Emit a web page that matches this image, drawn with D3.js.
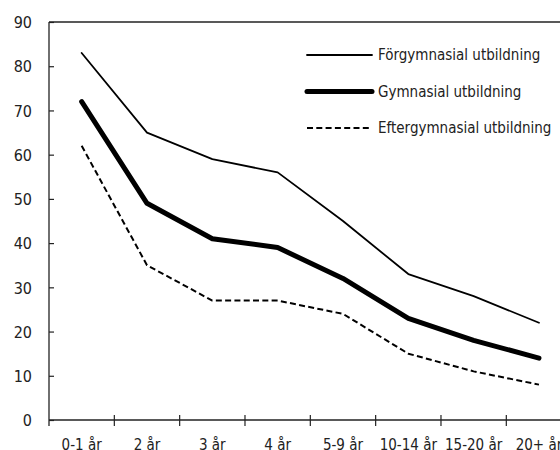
<!DOCTYPE html>
<html>
<head>
  <title>Utbildning</title>
  <style type="text/css">
    body { margin: 0; background: #fff; overflow: hidden; }
    svg { display: block; }
    svg text { font-family: "DejaVu Sans Condensed", "Liberation Sans Narrow", sans-serif; fill: #222; }
  </style>
</head>
<body>

<div id="chart"></div>

<script src="https://d3js.org/d3.v7.min.js"></script>
<script type="text/javascript">
var categories = ["0-1 år", "2 år", "3 år", "4 år", "5-9 år", "10-14 år", "15-20 år", "20+ år"];
var forgymnasial = [83, 65, 59, 56, 45, 33, 28, 22];
var gymnasial = [72, 49, 41, 39, 32, 23, 18, 14];
var eftergymnasial = [62, 35, 27, 27, 24, 15, 11, 8];
var yTicks = [0, 10, 20, 30, 40, 50, 60, 70, 80, 90];

var series = [
  { name: "Förgymnasial utbildning", values: forgymnasial, width: 1.8, dash: null },
  { name: "Gymnasial utbildning", values: gymnasial, width: 5, dash: null },
  { name: "Eftergymnasial utbildning", values: eftergymnasial, width: 2, dash: "6,3.3" }
];

var width = 560, height = 450;
var plotLeft = 49, plotTop = 22, plotBottom = 420, plotRight = 49 + 8 * 65.33;
var fontSize = "15px";

var svg = d3.select("#chart")
  .append("svg")
  .attr("width", width)
  .attr("height", height);

var x = d3.scaleBand().domain(categories).range([plotLeft, plotRight]);
var y = d3.scaleLinear().domain([0, 90]).range([plotBottom, plotTop]);

// frame top
svg.append("line")
  .attr("x1", plotLeft).attr("x2", plotRight)
  .attr("y1", plotTop).attr("y2", plotTop)
  .attr("stroke", "#222").attr("stroke-width", 1.3);

// y axis, ticks inward
var yAxis = svg.append("g")
  .attr("transform", "translate(" + plotLeft + ",0)")
  .call(d3.axisRight(y).tickValues(yTicks).tickSize(5).tickFormat(d3.format("d")));
yAxis.select(".domain").remove();
yAxis.append("line")
  .attr("x1", 0).attr("x2", 0)
  .attr("y1", plotTop).attr("y2", plotBottom + 6)
  .attr("stroke", "#222").attr("stroke-width", 1.3);
yAxis.selectAll(".tick line").attr("stroke", "#222").attr("stroke-width", 1.2);
yAxis.selectAll(".tick text")
  .attr("x", -17)
  .attr("text-anchor", "end")
  .attr("dy", "0.36em")
  .style("font-size", "16px");

// x axis, ticks crossing at band edges
var xg = svg.append("g");
xg.append("line")
  .attr("x1", plotLeft).attr("x2", plotRight)
  .attr("y1", plotBottom).attr("y2", plotBottom)
  .attr("stroke", "#222").attr("stroke-width", 1.3);
xg.selectAll(".xt")
  .data(categories.slice(1))
  .enter().append("line")
  .attr("x1", d => x(d)).attr("x2", d => x(d))
  .attr("y1", plotBottom - 5).attr("y2", plotBottom + 6)
  .attr("stroke", "#222").attr("stroke-width", 1.2);
xg.selectAll(".xl")
  .data(categories)
  .enter().append("text")
  .attr("x", d => x(d) + x.bandwidth() / 2)
  .attr("y", 450)
  .attr("text-anchor", "middle")
  .style("font-size", fontSize)
  .text(d => d);

// lines
var line = d3.line()
  .x((d, i) => x(categories[i]) + x.bandwidth() / 2)
  .y(d => y(d));

svg.selectAll(".series")
  .data(series)
  .enter().append("path")
  .attr("d", d => line(d.values))
  .attr("fill", "none")
  .attr("stroke", "#000")
  .attr("stroke-width", d => d.width)
  .attr("stroke-linecap", d => d.dash ? "butt" : "round")
  .attr("stroke-linejoin", "round")
  .attr("stroke-dasharray", d => d.dash);

// legend
var legend = svg.selectAll(".legend")
  .data(series)
  .enter().append("g")
  .attr("transform", (d, i) => "translate(307," + (55 + i * 36.5) + ")");
legend.append("line")
  .attr("x1", 0).attr("x2", 65)
  .attr("stroke", "#000")
  .attr("stroke-width", d => d.width)
  .attr("stroke-linecap", d => d.dash ? "butt" : "round")
  .attr("stroke-dasharray", d => d.dash);
legend.append("text")
  .attr("x", 71)
  .attr("dy", "0.36em")
  .style("font-size", fontSize)
  .text(d => d.name);
</script>
</body>
</html>
